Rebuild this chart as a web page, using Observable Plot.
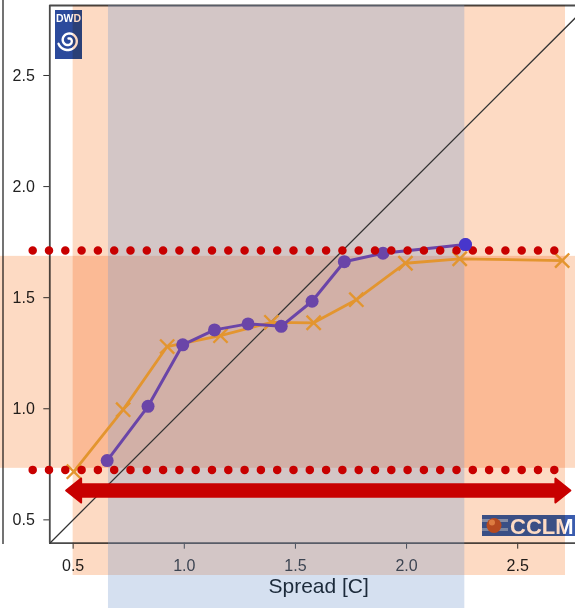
<!DOCTYPE html>
<html>
<head>
<meta charset="utf-8">
<script src="https://cdn.jsdelivr.net/npm/d3@7"></script>
<script src="https://cdn.jsdelivr.net/npm/@observablehq/plot@0.6"></script>
<style>
  html, body { margin: 0; padding: 0; background: #fff; }
  #chart { width: 575px; height: 608px; overflow: hidden; }
</style>
</head>
<body>
<div id="chart"></div>
<script>
// Ensemble spread (x) against error (y), two model configurations
const purpleSpread = [0.653, 0.837, 0.993, 1.136, 1.287, 1.436, 1.575, 1.720, 1.894, 2.265];
const purpleError  = [0.767, 1.011, 1.288, 1.355, 1.382, 1.371, 1.484, 1.662, 1.700, 1.739];
const orangeSpread = [0.503, 0.725, 0.923, 1.163, 1.392, 1.582, 1.774, 1.995, 2.239, 2.700];
const orangeError  = [0.717, 0.996, 1.280, 1.329, 1.389, 1.387, 1.491, 1.655, 1.675, 1.667];

const xTicks = [0.5, 1.0, 1.5, 2.0, 2.5];
const yTicks = [0.5, 1.0, 1.5, 2.0, 2.5];
const xDomain = [0.395, 2.76];
const yDomain = [0.395, 2.815];

// Highlighted ranges
const orangeRangeX = [0.5, 2.715];
const purpleRangeX = [0.659, 2.262];
const errorRangeY  = [0.732, 1.686];
const referenceLevels = [0.725, 1.712];
const arrowSpan = [0.4685, 2.737];
const arrowLevel = 0.632;
const axisTitle = "Spread [C]";

const purple = purpleSpread.map((x, i) => ({x, y: purpleError[i]}));
const orange = orangeSpread.map((x, i) => ({x, y: orangeError[i]}));
const purpleLast = purple.slice(-1);

const peach = "rgb(253,218,195)";
const purpleColor = "#6a45a8";
const orangeColor = "#e3952f";
const red = "#c80000";
const fontFamily = "'Liberation Sans', Arial, sans-serif";

// Double-headed arrow head, tip at the origin pointing right
const arrowHead = {
  draw(ctx) {
    ctx.moveTo(0, 0);
    ctx.lineTo(-15, -12);
    ctx.lineTo(-15, 12);
    ctx.closePath();
  }
};

// Institution logos and the neighbouring panel edge
function logos() {
  const g = d3.create("svg:g").attr("text-anchor", "start");
  g.append("line")
    .attr("x1", 3).attr("x2", 3).attr("y1", 0).attr("y2", 544)
    .attr("stroke", "#444").attr("stroke-width", 1.5);

  const dwd = g.append("g");
  dwd.append("rect").attr("x", 55).attr("y", 10).attr("width", 27).attr("height", 49).attr("fill", "#2b4a9c");
  dwd.append("text")
    .attr("x", 68.5).attr("y", 21.5).attr("text-anchor", "middle")
    .attr("fill", "white").attr("font-size", 10.5).attr("font-weight", "bold")
    .attr("font-family", fontFamily)
    .text("DWD");
  const pts = d3.range(0, 1.001, 0.02).map(t => {
    const a = -Math.PI / 2 + t * 3.4 * Math.PI;
    const r = 2 + 8.5 * t;
    return [68.5 + r * Math.cos(a), 40.5 + r * Math.sin(a)];
  });
  dwd.append("path").attr("d", d3.line()(pts))
    .attr("fill", "none").attr("stroke", "white").attr("stroke-width", 2.4).attr("stroke-linecap", "round");

  const cclm = g.append("g");
  cclm.append("rect").attr("x", 482).attr("y", 515).attr("width", 100).attr("height", 21).attr("fill", "#3a5cae");
  cclm.append("rect").attr("x", 482).attr("y", 519).attr("width", 26).attr("height", 3).attr("fill", "#a9c3e6").attr("opacity", 0.7);
  cclm.append("rect").attr("x", 482).attr("y", 528).attr("width", 26).attr("height", 3).attr("fill", "#a9c3e6").attr("opacity", 0.6);
  cclm.append("circle").attr("cx", 494).attr("cy", 525.5).attr("r", 7.5).attr("fill", "#b8562a");
  cclm.append("circle").attr("cx", 492).attr("cy", 522.5).attr("r", 3).attr("fill", "#e8a060").attr("opacity", 0.8);
  cclm.append("text")
    .attr("x", 510).attr("y", 534).attr("text-anchor", "start")
    .attr("fill", "white").attr("font-size", 22).attr("font-weight", "bold")
    .attr("font-family", fontFamily)
    .text("CCLM");
  return g.node();
}

const chart = Plot.plot({
  width: 575,
  height: 608,
  marginLeft: 49.3,
  marginRight: 0,
  marginTop: 5,
  marginBottom: 65.3,
  style: {
    fontFamily,
    fontSize: "15px",
    color: "#333",
    background: "white"
  },
  x: {domain: xDomain, ticks: xTicks, tickSize: 6, tickPadding: 10, tickFormat: ".1f", label: null},
  y: {domain: yDomain, ticks: yTicks, tickSize: 6, tickPadding: 9, tickFormat: ".1f", label: null},
  marks: [
    logos,
    // frame edges (left, bottom, top)
    Plot.ruleX([xDomain[0]], {stroke: "#4a4a4a", strokeWidth: 1.8}),
    Plot.ruleY([yDomain[0], yDomain[1]], {stroke: "#4a4a4a", strokeWidth: 1.8}),

    // shaded ranges
    Plot.rect([{x1: xDomain[0], x2: xDomain[1], y1: errorRangeY[0], y2: errorRangeY[1]}],
      {x1: "x1", x2: "x2", y1: "y1", y2: "y2", insetLeft: -49.3, fill: peach, mixBlendMode: "multiply"}),
    Plot.rect([{x1: orangeRangeX[0], x2: orangeRangeX[1], y1: yDomain[0], y2: yDomain[1]}],
      {x1: "x1", x2: "x2", y1: "y1", y2: "y2", insetBottom: -32.3, fill: peach, mixBlendMode: "multiply"}),
    Plot.rect([{x1: purpleRangeX[0], x2: purpleRangeX[1], y1: yDomain[0], y2: yDomain[1]}],
      {x1: "x1", x2: "x2", y1: "y1", y2: "y2", insetBottom: -65.3, fill: "rgb(121,154,205)", fillOpacity: 0.31}),

    // identity line
    Plot.line(xDomain.map(v => ({x: v, y: v})), {x: "x", y: "y", stroke: "#333", strokeWidth: 1.3}),

    // series
    Plot.line(orange, {x: "x", y: "y", stroke: orangeColor, strokeWidth: 2.8}),
    Plot.dot(orange, {x: "x", y: "y", symbol: "times", r: 6.5, stroke: orangeColor, strokeWidth: 2.4}),
    Plot.line(purple, {x: "x", y: "y", stroke: purpleColor, strokeWidth: 3}),
    Plot.dot(purple, {x: "x", y: "y", r: 6.5, fill: purpleColor}),

    // reference levels
    Plot.ruleY(referenceLevels.map(y => ({y, x1: xDomain[0], x2: xDomain[1]})),
      {y: "y", x1: "x1", x2: "x2", insetLeft: -16.6, insetRight: 6,
       stroke: red, strokeWidth: 8.5, strokeLinecap: "round", strokeDasharray: "0 16.3"}),
    Plot.dot(purpleLast, {x: "x", y: "y", r: 6.5, fill: "#4736cc"}),

    // double-headed arrow
    Plot.ruleY([{y: arrowLevel, x1: arrowSpan[0], x2: arrowSpan[1]}],
      {y: "y", x1: "x1", x2: "x2", insetLeft: 10, insetRight: 10, stroke: red, strokeWidth: 14.5}),
    Plot.dot([{x: arrowSpan[0], y: arrowLevel, a: 180}, {x: arrowSpan[1], y: arrowLevel, a: 0}],
      {x: "x", y: "y", rotate: "a", symbol: arrowHead, fill: red, stroke: red, strokeWidth: 2, strokeLinejoin: "round"}),

    // axis title
    Plot.text([axisTitle], {frameAnchor: "bottom", dy: 50, dx: 6, fontSize: 21, fill: "#1c2a3a", text: d => d})
  ]
});

// Larger, darker tick labels on both axes
d3.select(chart)
  .selectAll('g[aria-label^="x-axis"] text, g[aria-label^="y-axis"] text')
  .attr("font-size", null)
  .style("font-size", "16px")
  .style("fill", "#222");

document.getElementById("chart").appendChild(chart);
</script>
</body>
</html>
